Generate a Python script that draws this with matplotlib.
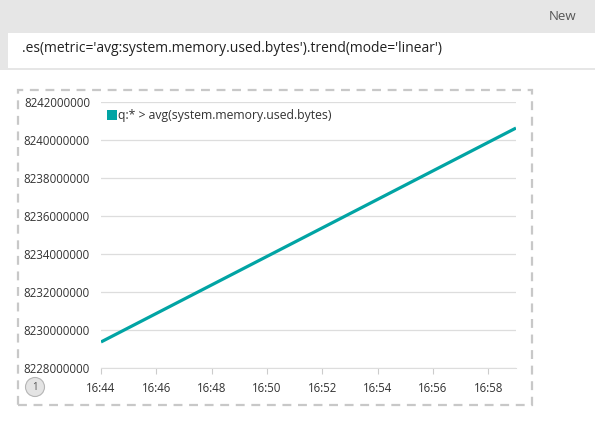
import matplotlib
matplotlib.use("Agg")
import matplotlib.pyplot as plt
import matplotlib.dates as mdates
from matplotlib.patches import Rectangle, Ellipse
import pandas as pd

plt.rcParams['font.family'] = ['Open Sans', 'DejaVu Sans']

# data: linear trend of avg memory used
times = pd.to_datetime(["2017-01-01 16:44", "2017-01-01 16:59"])
values = [8229370000, 8240630000]
series_label = "q:* > avg(system.memory.used.bytes)"
query = ".es(metric='avg:system.memory.used.bytes').trend(mode='linear')"
y_ticks = [8228000000, 8230000000, 8232000000, 8234000000,
           8236000000, 8238000000, 8240000000, 8242000000]
x_ticks = pd.date_range("2017-01-01 16:44", "2017-01-01 16:58", freq="2min")

W, H = 595, 440
fig = plt.figure(figsize=(W / 100, H / 100), dpi=100)

def fx(px):
    return px / W

def fy(py):
    return 1 - py / H

# top grey band with the query box
fig.patches.append(Rectangle((0, fy(70)), 1, 70 / H, transform=fig.transFigure,
                             facecolor="#e6e6e6", edgecolor="none", zorder=0))
fig.patches.append(Rectangle((fx(8), fy(68)), 1, 35 / H, transform=fig.transFigure,
                             facecolor="white", edgecolor="none", zorder=1))
fig.text(fx(576), fy(17), "New", ha="right", va="center", fontsize=9.5, color="#555555")
fig.text(fx(22), fy(49), query, ha="left", va="center", fontsize=10, color="#222222")

# dashed panel border
fig.patches.append(Rectangle((fx(18), fy(405)), fx(532) - fx(18), (405 - 90) / H,
                             transform=fig.transFigure, facecolor="none",
                             edgecolor="#c8c8c8", linewidth=1.6, linestyle=(0, (4, 3)),
                             zorder=1))

# little page marker
fig.patches.append(Ellipse((fx(35), fy(387)), 19 / W, 19 / H, transform=fig.transFigure,
                           facecolor="#e4e4e4", edgecolor="#b5b5b5", linewidth=0.8))
fig.text(fx(35), fy(387.5), "1", ha="center", va="center", fontsize=7, color="#555555")

ax = fig.add_axes([fx(101), fy(368), fx(516) - fx(101), (368 - 102) / H])
ax.plot(times, values, color="#01a4a4", linewidth=2.3, solid_capstyle="butt")

ax.set_ylim(8228000000, 8242000000)
ax.set_xlim(pd.Timestamp("2017-01-01 16:44"), pd.Timestamp("2017-01-01 16:59"))
ax.set_yticks(y_ticks)
ax.set_yticklabels([str(v) for v in y_ticks])
ax.set_xticks(x_ticks)
ax.xaxis.set_major_formatter(mdates.DateFormatter("%H:%M"))
ax.grid(axis="y", color="#dddddd", linewidth=0.9)
ax.set_axisbelow(True)
for s in ["top", "right", "left"]:
    ax.spines[s].set_visible(False)
ax.spines["bottom"].set_color("#dddddd")
ax.tick_params(axis="y", length=0, pad=8, labelsize=8.3, labelcolor="#333333")
ax.tick_params(axis="x", length=4, color="#cccccc", pad=6, labelsize=8.3, labelcolor="#333333")

# legend
fig.patches.append(Rectangle((fx(107), fy(120)), 10 / W, 10 / H, transform=fig.transFigure,
                             facecolor="#01a4a4", edgecolor="none"))
fig.text(fx(118), fy(115), series_label, ha="left", va="center", fontsize=8.8, color="#333333")

fig.savefig("out.png", dpi=100)
